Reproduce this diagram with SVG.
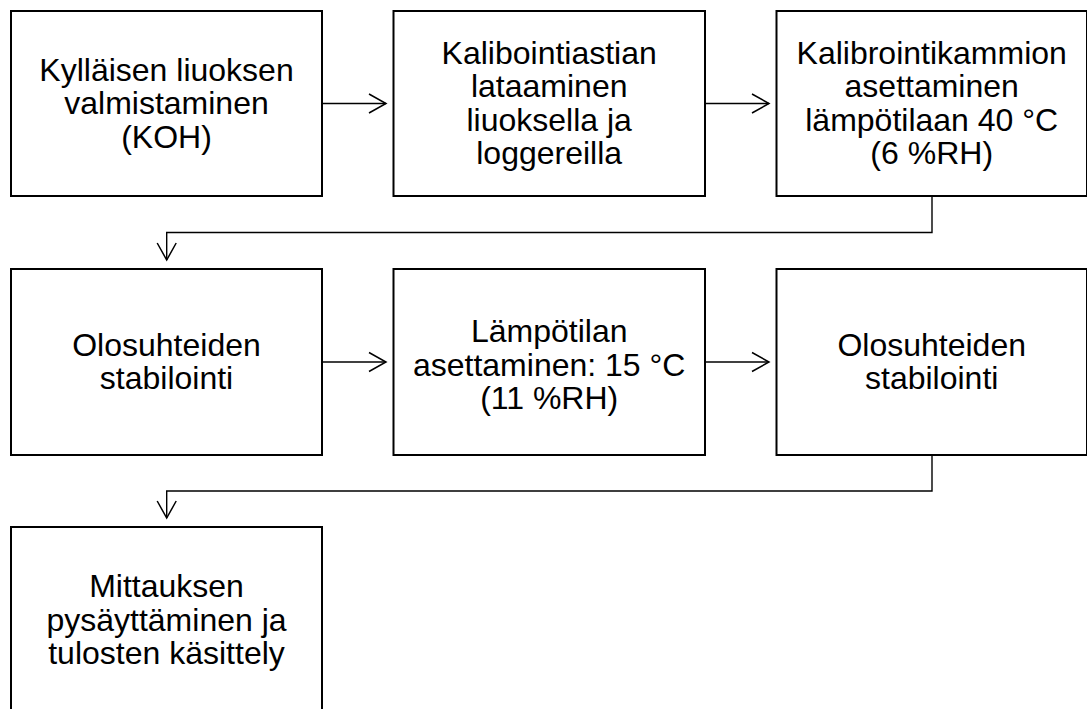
<svg xmlns="http://www.w3.org/2000/svg" width="1087" height="709" viewBox="0 0 1087 709">
<defs>
<style>
.box{fill:#fff;stroke:#000;stroke-width:2}
.t{font-family:"Liberation Sans",Arial,sans-serif;font-size:32px;fill:#000;text-anchor:middle}
.c{fill:none;stroke:#000;stroke-width:1.4}
</style>
<marker id="ah" viewBox="0 0 20 22" refX="18" refY="11" markerWidth="20" markerHeight="22" markerUnits="userSpaceOnUse" orient="auto">
<path d="M1,1.5 L18,11 L1,20.5" fill="none" stroke="#000" stroke-width="1.5"/>
</marker>
</defs>
<rect width="1087" height="709" fill="#fff"/>
<g id="connectors">
<path class="c" d="M322,103.5 H386" marker-end="url(#ah)"/>
<path class="c" d="M705,103.5 H769" marker-end="url(#ah)"/>
<path class="c" d="M932,196 V232.5 H166.7 V260" marker-end="url(#ah)"/>
<path class="c" d="M322,362 H386" marker-end="url(#ah)"/>
<path class="c" d="M705,362 H769" marker-end="url(#ah)"/>
<path class="c" d="M932,455 V491 H166.7 V518" marker-end="url(#ah)"/>
</g>
<g id="n1">
<rect class="box" x="11" y="11" width="311" height="185"/>
<text class="t" x="166.5" y="80.5">Kylläisen liuoksen</text>
<text class="t" x="166.5" y="114">valmistaminen</text>
<text class="t" x="166.5" y="147.5">(KOH)</text>
</g>
<g id="n2">
<rect class="box" x="393.5" y="11" width="311.5" height="185"/>
<text class="t" x="549.2" y="63.5">Kalibointiastian</text>
<text class="t" x="549.2" y="97">lataaminen</text>
<text class="t" x="549.2" y="130.5">liuoksella ja</text>
<text class="t" x="549.2" y="164">loggereilla</text>
</g>
<g id="n3">
<rect class="box" x="776.5" y="11" width="310.5" height="185"/>
<text class="t" x="931.7" y="63.5">Kalibrointikammion</text>
<text class="t" x="931.7" y="97">asettaminen</text>
<text class="t" x="931.7" y="130.5">lämpötilaan 40 °C</text>
<text class="t" x="931.7" y="164">(6 %RH)</text>
</g>
<g id="n4">
<rect class="box" x="11" y="269" width="311" height="186"/>
<text class="t" x="166.5" y="355.5">Olosuhteiden</text>
<text class="t" x="166.5" y="388.5">stabilointi</text>
</g>
<g id="n5">
<rect class="box" x="393.5" y="269" width="311.5" height="186"/>
<text class="t" x="549.2" y="342">Lämpötilan</text>
<text class="t" x="549.2" y="375.5">asettaminen: 15 °C</text>
<text class="t" x="549.2" y="409">(11 %RH)</text>
</g>
<g id="n6">
<rect class="box" x="776.5" y="269" width="310.5" height="186"/>
<text class="t" x="931.7" y="355.5">Olosuhteiden</text>
<text class="t" x="931.7" y="388.5">stabilointi</text>
</g>
<g id="n7">
<rect class="box" x="11" y="527" width="311" height="186"/>
<text class="t" x="166.5" y="597">Mittauksen</text>
<text class="t" x="166.5" y="630.5">pysäyttäminen ja</text>
<text class="t" x="166.5" y="664">tulosten käsittely</text>
</g>
</svg>
